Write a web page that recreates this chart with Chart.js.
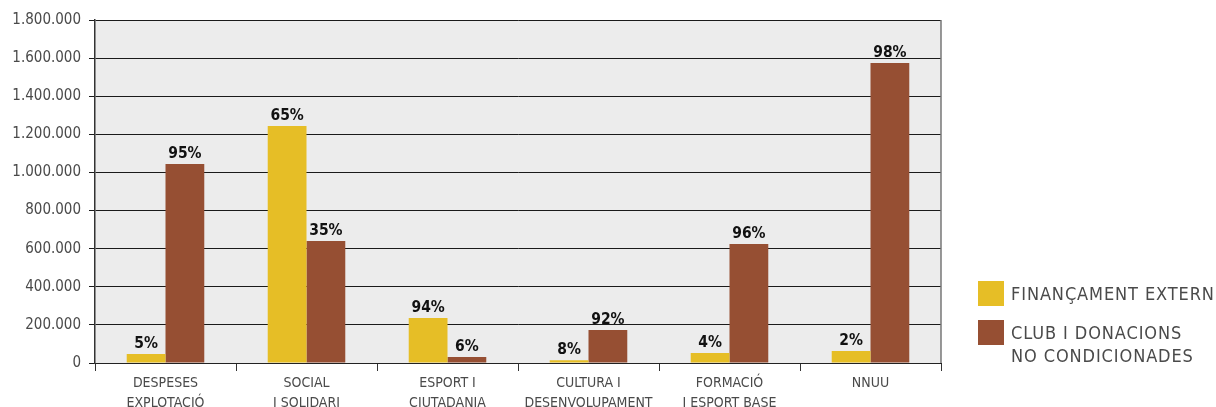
<!DOCTYPE html>
<html>
<head>
<meta charset="utf-8">
<script src="https://cdn.jsdelivr.net/npm/chart.js@4/dist/chart.umd.min.js"></script>
<style>
  html, body { margin: 0; padding: 0; background: #fff; }
  #wrap { position: relative; width: 1216px; height: 407px; }
  #c { position: absolute; left: 0; top: 0; }
  .lg { position: absolute; font-family: 'DejaVu Sans Condensed', 'Liberation Sans Narrow', sans-serif; font-size: 18px; letter-spacing: 0.9px; color: #4a4a4a; line-height: 23px; }
  .sw { position: absolute; width: 26px; height: 25px; }
</style>
</head>
<body>
<div id="wrap">
  <canvas id="c" width="1216" height="407"></canvas>
  <div id="legend"></div>
</div>
<script>
const categories = [
  ["DESPESES", "EXPLOTACIÓ"],
  ["SOCIAL", "I SOLIDARI"],
  ["ESPORT I", "CIUTADANIA"],
  ["CULTURA I", "DESENVOLUPAMENT"],
  ["FORMACIÓ", "I ESPORT BASE"],
  ["NNUU"]
];
const seriesNames = [["FINANÇAMENT EXTERN"], ["CLUB I DONACIONS", "NO CONDICIONADES"]];
const externValues = [47000, 1244000, 236000, 15000, 52000, 63000];
const clubValues = [1044000, 640000, 31000, 173000, 624000, 1574000];
const externPct = ["5%", "65%", "94%", "8%", "4%", "2%"];
const clubPct = ["95%", "35%", "6%", "92%", "96%", "98%"];
const yTicksMax = 1800000;
const yStep = 200000;

const colors = ["#E6BE26", "#964F33"];
const FONT = "'DejaVu Sans Condensed', 'Liberation Sans Narrow', sans-serif";

const bgPlugin = {
  id: 'bg',
  beforeDraw(chart) {
    const { ctx, chartArea: a } = chart;
    ctx.save();
    ctx.fillStyle = '#ececec';
    ctx.fillRect(a.left, a.top, a.right - a.left, a.bottom - a.top);
    ctx.restore();
  },
  afterDraw(chart) {
    const { ctx, chartArea: a } = chart;
    ctx.save();
    ctx.strokeStyle = '#777';
    ctx.lineWidth = 1.5;
    ctx.beginPath();
    ctx.moveTo(a.right, a.top);
    ctx.lineTo(a.right, a.bottom);
    ctx.stroke();
    ctx.restore();
  }
};

const pctLabels = [externPct, clubPct];
const labelPlugin = {
  id: 'pct',
  afterDatasetsDraw(chart) {
    const ctx = chart.ctx;
    ctx.save();
    ctx.font = "bold 15.5px " + FONT;
    ctx.fillStyle = '#111';
    ctx.textAlign = 'center';
    ctx.textBaseline = 'bottom';
    chart.data.datasets.forEach((ds, di) => {
      const meta = chart.getDatasetMeta(di);
      meta.data.forEach((bar, i) => {
        ctx.fillText(pctLabels[di][i], bar.x, bar.y - 2);
      });
    });
    ctx.restore();
  }
};

const chart = new Chart(document.getElementById('c'), {
  type: 'bar',
  data: {
    labels: categories,
    datasets: [
      { label: seriesNames[0].join(' '), data: externValues, backgroundColor: colors[0] },
      { label: seriesNames[1].join(' '), data: clubValues, backgroundColor: colors[1] }
    ]
  },
  options: {
    responsive: false,
    animation: false,
    layout: { padding: { left: 0, right: 275, top: 20, bottom: 0 } },
    categoryPercentage: 0.55,
    barPercentage: 1.0,
    plugins: { legend: { display: false }, tooltip: { enabled: false } },
    scales: {
      x: {
        grid: { drawOnChartArea: false, drawTicks: true, tickLength: 8, color: '#333', offset: true },
        border: { color: '#222', width: 1 },
        ticks: { color: '#4a4a4a', font: { family: FONT, size: 14, lineHeight: 1.45 }, padding: 2, maxRotation: 0, autoSkip: false },
        afterFit(s) { s.height = 44; }
      },
      y: {
        min: 0,
        max: yTicksMax,
        ticks: {
          stepSize: yStep,
          color: '#4a4a4a',
          font: { family: FONT, size: 15 },
          padding: 8,
          callback: v => v.toString().replace(/\B(?=(\d{3})+(?!\d))/g, '.')
        },
        grid: { color: '#1a1a1a', lineWidth: 1, tickLength: 6 },
        border: { color: '#333', width: 1.5 },
        afterFit(s) { s.width = 95; }
      }
    }
  },
  plugins: [bgPlugin, labelPlugin]
});

// legend
const lg = document.getElementById('legend');
const legendTops = [281, 320];
seriesNames.forEach((lines, i) => {
  const sw = document.createElement('div');
  sw.className = 'sw';
  sw.style.left = '978px';
  sw.style.top = legendTops[i] + 'px';
  sw.style.background = colors[i];
  lg.appendChild(sw);
  const t = document.createElement('div');
  t.className = 'lg';
  t.style.left = '1011px';
  t.style.top = (legendTops[i] + 1) + 'px';
  t.innerHTML = lines.join('<br>');
  lg.appendChild(t);
});
</script>
</body>
</html>
